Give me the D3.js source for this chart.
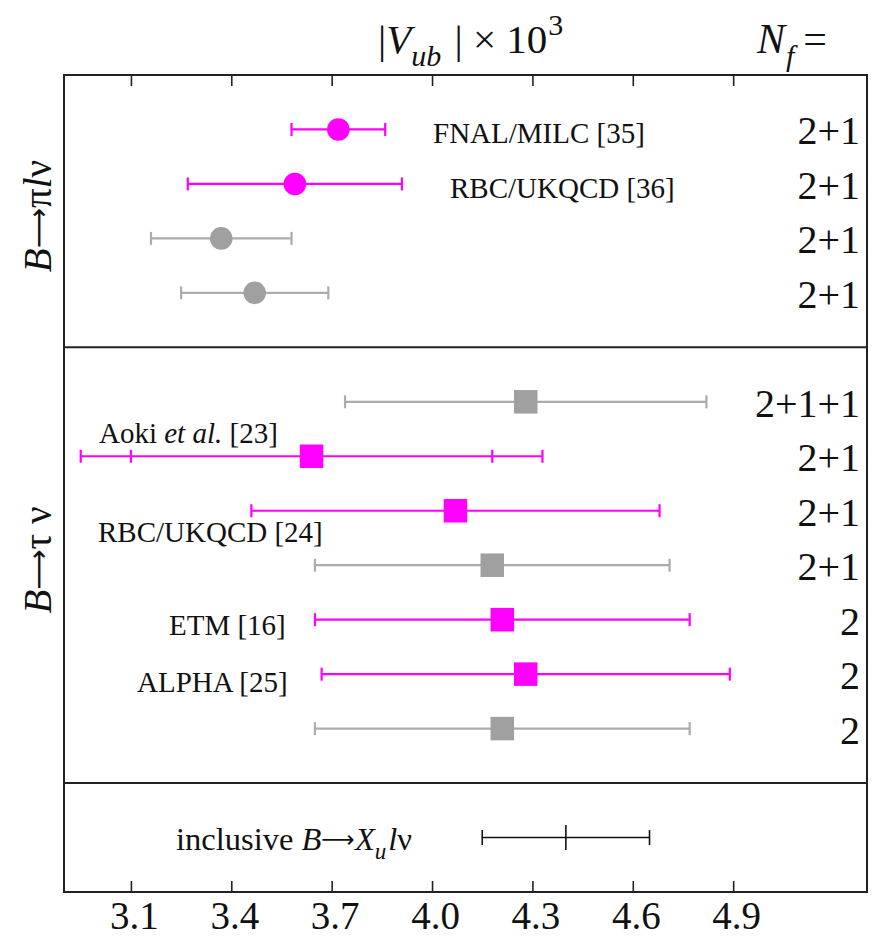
<!DOCTYPE html>
<html>
<head>
<meta charset="utf-8">
<script src="https://cdn.jsdelivr.net/npm/d3@7"></script>
<style>
  html, body { margin: 0; padding: 0; background: #fff; }
  svg { display: block; }
  text { font-family: "Liberation Serif", "DejaVu Serif", serif; fill: #111; }
  .arrow { font-family: "DejaVu Sans", sans-serif; }
</style>
</head>
<body>
<svg id="chart" width="876" height="937"></svg>
<script>
// ---------------- data ----------------
const tickValues = [3.1, 3.4, 3.7, 4.0, 4.3, 4.6, 4.9];
const tickLabels = ["3.1", "3.4", "3.7", "4.0", "4.3", "4.6", "4.9"];
const slots      = [0, 1, 2, 3, 5, 6, 7, 8, 9, 10, 11, 13];   // row index (with gaps between panels)
const central    = [3.72, 3.59, 3.37, 3.47, 4.28, 3.64, 4.07, 4.18, 4.21, 4.28, 4.21, 4.40];
const lowTotal   = [3.58, 3.27, 3.16, 3.25, 3.74, 2.95, 3.46, 3.65, 3.65, 3.67, 3.65, 4.15];
const highTotal  = [3.86, 3.91, 3.58, 3.69, 4.82, 4.33, 4.68, 4.71, 4.77, 4.89, 4.77, 4.65];
const lowStat    = [null, null, null, null, null, 3.10, null, null, null, null, null, null];
const highStat   = [null, null, null, null, null, 4.18, null, null, null, null, null, null];
const processes  = ["pi", "pi", "pi", "pi", "tau", "tau", "tau", "tau", "tau", "tau", "tau", "incl"];
const isNew      = [true, true, false, false, false, true, true, false, true, true, false, null];
const nfLabels   = ["2+1", "2+1", "2+1", "2+1", "2+1+1", "2+1", "2+1", "2+1", "2", "2", "2", ""];
const collabNames = ["FNAL/MILC [35]", "RBC/UKQCD [36]", "Aoki et al. [23]", "RBC/UKQCD [24]", "ETM [16]", "ALPHA [25]"];
const panelDividers = [4, 12];

// ---------------- layout ----------------
const mLeft = 64, mRight = 867, mTop = 75, mBottom = 892;
const MAG = "#ff00ff", GREY_M = "#a0a0a0", GREY_L = "#acacac";
const ARROW = "\u27F6";

const svg = d3.select("#chart");
const x = d3.scaleLinear().domain([2.9, 5.3]).range([mLeft, mRight]);
const y = d3.scaleLinear().domain([-1, 14]).range([mTop, mBottom]);

// collaboration label placements (pixel layout)
const labelPlace = [
  {x: 433, y: 143}, {x: 450, y: 198}, {x: 99, y: 443},
  {x: 98, y: 542}, {x: 169, y: 635}, {x: 137, y: 692}
];

// ---------------- axes ----------------
const bottomAxis = d3.axisBottom(x).tickValues(tickValues).tickSize(-11)
  .tickFormat((d, i) => tickLabels[i]);
const gb = svg.append("g").attr("transform", `translate(0,${mBottom})`).call(bottomAxis);
gb.select(".domain").remove();
gb.selectAll(".tick line").attr("stroke", "#222").attr("stroke-width", 1.6);
gb.selectAll(".tick text").attr("font-size", 39).attr("dx", 3)
  .attr("font-family", "Liberation Serif, serif").attr("fill", "#111")
  .attr("dy", 0).attr("y", 37);

const topAxis = d3.axisTop(x).tickValues(tickValues).tickSize(-11).tickFormat("");
const gt = svg.append("g").attr("transform", `translate(0,${mTop})`).call(topAxis);
gt.select(".domain").remove();
gt.selectAll(".tick line").attr("stroke", "#222").attr("stroke-width", 1.6);

// frame and dividers
svg.append("rect").attr("x", mLeft).attr("y", mTop)
  .attr("width", mRight - mLeft).attr("height", mBottom - mTop)
  .attr("fill", "none").attr("stroke", "#222").attr("stroke-width", 2);
svg.selectAll("line.div").data(panelDividers).enter().append("line")
  .attr("x1", mLeft).attr("x2", mRight)
  .attr("y1", d => y(d)).attr("y2", d => y(d))
  .attr("stroke", "#222").attr("stroke-width", 2);

// ---------------- data marks ----------------
const rows = central.map((c, i) => ({
  c, lo: lowTotal[i], hi: highTotal[i], ls: lowStat[i], hs: highStat[i],
  k: slots[i], proc: processes[i], isNew: isNew[i], nf: nfLabels[i]
}));
const col = d => d.isNew === null ? "#111" : (d.isNew ? MAG : GREY_L);
const mcol = d => d.isNew ? MAG : GREY_M;
const capH = 6.5;

const g = svg.append("g");
rows.forEach(d => {
  const yy = y(d.k);
  const c = col(d);
  const sw = d.isNew === null ? 1.6 : 2.2;
  g.append("line").attr("x1", x(d.lo)).attr("x2", x(d.hi)).attr("y1", yy).attr("y2", yy)
    .attr("stroke", c).attr("stroke-width", sw);
  const caps = [d.lo, d.hi];
  if (d.ls !== null) caps.push(d.ls, d.hs);
  const ch = d.isNew === null ? 7.5 : capH;
  caps.forEach(v => {
    g.append("line").attr("x1", x(v)).attr("x2", x(v)).attr("y1", yy - ch).attr("y2", yy + ch)
      .attr("stroke", c).attr("stroke-width", sw);
  });
  if (d.proc === "pi") {
    g.append("circle").attr("cx", x(d.c)).attr("cy", yy).attr("r", 11.3).attr("fill", mcol(d));
  } else if (d.proc === "tau") {
    const s = 23.5;
    g.append("rect").attr("x", x(d.c) - s / 2).attr("y", yy - s / 2)
      .attr("width", s).attr("height", s).attr("fill", mcol(d));
  } else {
    g.append("line").attr("x1", x(d.c)).attr("x2", x(d.c)).attr("y1", yy - 12.5).attr("y2", yy + 12.5)
      .attr("stroke", c).attr("stroke-width", sw);
  }
  if (d.nf) {
    svg.append("text").attr("x", 860).attr("y", yy + 15).attr("text-anchor", "end")
      .attr("font-size", 40).text(d.nf);
  }
});

// collaboration labels
collabNames.forEach((name, i) => {
  const p = labelPlace[i];
  const t = svg.append("text").attr("x", p.x).attr("y", p.y).attr("font-size", 29);
  const m = name.match(/^(.*?)(et al\.)(.*)$/);
  if (m) {
    t.append("tspan").text(m[1]);
    t.append("tspan").attr("font-style", "italic").text(m[2]);
    t.append("tspan").text(m[3]);
  } else {
    t.text(name);
  }
});

// helper: add a thin long arrow tspan, sized relative to the text
function addArrow(t, fs) {
  const a = fs * 0.72;
  const shift = -(fs - a) * 0.3;
  t.append("tspan").attr("class", "arrow").attr("font-size", a).attr("dy", shift).text(ARROW);
  return -shift;
}

// inclusive label
const inc = svg.append("text").attr("x", 176).attr("y", 850).attr("font-size", 32.5);
inc.append("tspan").text("inclusive ");
inc.append("tspan").attr("font-style", "italic").text("B");
let back = addArrow(inc, 32.5);
inc.append("tspan").attr("font-style", "italic").attr("dy", back).text("X");
inc.append("tspan").attr("font-style", "italic").attr("font-size", 23).attr("dy", 9).text("u");
inc.append("tspan").attr("font-style", "italic").attr("dy", -9).attr("dx", 2).text("l");
inc.append("tspan").text("ν");

// title
const title = svg.append("text").attr("x", 378).attr("y", 53).attr("font-size", 41);
title.append("tspan").text("|");
title.append("tspan").attr("font-style", "italic").text("V");
title.append("tspan").attr("font-style", "italic").attr("font-size", 30).attr("dy", 13).text("ub");
title.append("tspan").attr("dy", -13).attr("dx", 3).text(" | × 10");
title.append("tspan").attr("font-size", 30).attr("dy", -18).attr("dx", 1).text("3");

const nfT = svg.append("text").attr("x", 757).attr("y", 53).attr("font-size", 42);
nfT.append("tspan").attr("font-style", "italic").text("N");
nfT.append("tspan").attr("font-style", "italic").attr("font-size", 30).attr("dy", 13).attr("dx", 1).text("f");
nfT.append("tspan").attr("dy", -13).attr("dx", 9).text("=");

// rotated process labels
function procLabel(cy, parts) {
  const fs = 39;
  const t = svg.append("text").attr("transform", `translate(51,${cy}) rotate(-90)`)
    .attr("text-anchor", "middle").attr("font-size", fs);
  let pending = 0;
  parts.forEach(p => {
    if (p[0] === "ARROW") {
      pending = addArrow(t, fs);
    } else {
      const s = t.append("tspan").attr("font-style", p[1] ? "italic" : "normal").text(p[0]);
      if (pending) { s.attr("dy", pending); pending = 0; }
    }
  });
}
procLabel(216, [["B", true], ["ARROW", false], ["π", false], ["l", true], ["ν", false]]);
procLabel(560, [["B", true], ["ARROW", false], ["τ", false], [" ν", false]]);
</script>
</body>
</html>
